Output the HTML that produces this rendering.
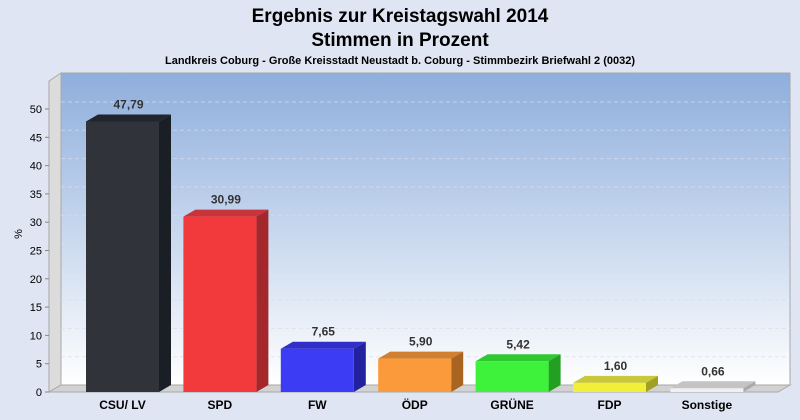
<!DOCTYPE html>
<html><head><meta charset="utf-8"><style>
body{margin:0;background:#dfe5f3;}
svg{display:block;font-family:"Liberation Sans",sans-serif;}
</style></head><body>
<svg width="800" height="420" viewBox="0 0 800 420">
<defs>
<linearGradient id="bg" x1="0" y1="0" x2="0" y2="1"><stop offset="0" stop-color="#8eaedc"/><stop offset="1" stop-color="#ffffff"/></linearGradient>
</defs>
<rect width="800" height="420" fill="#dfe5f3"/>
<text x="400" y="22" text-anchor="middle" font-size="19" font-weight="bold">Ergebnis zur Kreistagswahl 2014</text>
<text x="400" y="46" text-anchor="middle" font-size="19" font-weight="bold">Stimmen in Prozent</text>
<text x="400" y="64" text-anchor="middle" font-size="11" font-weight="bold">Landkreis Coburg - Große Kreisstadt Neustadt b. Coburg - Stimmbezirk Briefwahl 2 (0032)</text>
<rect x="61" y="73" width="729" height="312" fill="url(#bg)" stroke="#a8a8a8"/>
<polygon points="49,81 61,73 61,385 49,392" fill="#dcdcdc" stroke="#a8a8a8"/>
<polygon points="49,392 61,385 790,385 778,392" fill="#d2d2d2" stroke="#a8a8a8"/>
<g stroke="#d8dde8" stroke-dasharray="4,3" stroke-opacity="0.7">
<line x1="61" y1="356.7" x2="790" y2="356.7"/><line x1="61" y1="328.4" x2="790" y2="328.4"/><line x1="61" y1="300.1" x2="790" y2="300.1"/><line x1="61" y1="271.8" x2="790" y2="271.8"/><line x1="61" y1="243.5" x2="790" y2="243.5"/><line x1="61" y1="215.2" x2="790" y2="215.2"/><line x1="61" y1="186.9" x2="790" y2="186.9"/><line x1="61" y1="158.6" x2="790" y2="158.6"/><line x1="61" y1="130.3" x2="790" y2="130.3"/><line x1="61" y1="102" x2="790" y2="102"/>
</g>
<g font-size="11" text-anchor="end" fill="#000">
<text x="42" y="396">0</text><text x="42" y="367.7">5</text><text x="42" y="339.4">10</text><text x="42" y="311.1">15</text><text x="42" y="282.8">20</text><text x="42" y="254.5">25</text><text x="42" y="226.2">30</text><text x="42" y="197.9">35</text><text x="42" y="169.6">40</text><text x="42" y="141.3">45</text><text x="42" y="113">50</text>
</g>
<g stroke="#888">
<line x1="45" y1="392" x2="49" y2="392"/><line x1="45" y1="363.7" x2="49" y2="363.7"/><line x1="45" y1="335.4" x2="49" y2="335.4"/><line x1="45" y1="307.1" x2="49" y2="307.1"/><line x1="45" y1="278.8" x2="49" y2="278.8"/><line x1="45" y1="250.5" x2="49" y2="250.5"/><line x1="45" y1="222.2" x2="49" y2="222.2"/><line x1="45" y1="193.9" x2="49" y2="193.9"/><line x1="45" y1="165.6" x2="49" y2="165.6"/><line x1="45" y1="137.3" x2="49" y2="137.3"/><line x1="45" y1="109" x2="49" y2="109"/>
</g>
<text x="22" y="234" font-size="11" transform="rotate(-90 22 234)" text-anchor="middle">%</text>

<!-- CSU -->
<polygon points="86,121.5 98,114.5 171,114.5 159,121.5" fill="#21262e"/>
<polygon points="159,121.5 171,114.5 171,385 159,392" fill="#1a1e25"/>
<rect x="86" y="121.5" width="73" height="270.5" fill="#30343a"/>
<!-- SPD -->
<polygon points="183.4,216.6 195.4,209.6 268.4,209.6 256.4,216.6" fill="#c7343a"/>
<polygon points="256.4,216.6 268.4,209.6 268.4,385 256.4,392" fill="#a3272b"/>
<rect x="183.4" y="216.6" width="73" height="175.4" fill="#f23a3d"/>
<!-- FW -->
<polygon points="280.8,348.7 292.8,341.7 365.8,341.7 353.8,348.7" fill="#3030c8"/>
<polygon points="353.8,348.7 365.8,341.7 365.8,385 353.8,392" fill="#2222a0"/>
<rect x="280.8" y="348.7" width="73" height="43.3" fill="#3c3cf5"/>
<!-- ÖDP -->
<polygon points="378.2,358.6 390.2,351.6 463.2,351.6 451.2,358.6" fill="#d0802e"/>
<polygon points="451.2,358.6 463.2,351.6 463.2,385 451.2,392" fill="#a86420"/>
<rect x="378.2" y="358.6" width="73" height="33.4" fill="#fb9a3a"/>
<!-- GRÜNE -->
<polygon points="475.6,361.3 487.6,354.3 560.6,354.3 548.6,361.3" fill="#30c830"/>
<polygon points="548.6,361.3 560.6,354.3 560.6,385 548.6,392" fill="#22a022"/>
<rect x="475.6" y="361.3" width="73" height="30.7" fill="#3ef23c"/>
<!-- FDP -->
<polygon points="573,382.9 585,375.9 658,375.9 646,382.9" fill="#c8c83a"/>
<polygon points="646,382.9 658,375.9 658,385 646,392" fill="#a0a022"/>
<rect x="573" y="382.9" width="73" height="9.1" fill="#f0f03a"/>
<!-- Sonstige -->
<polygon points="670.4,388.3 682.4,381.3 755.4,381.3 743.4,388.3" fill="#c4c4c4"/>
<polygon points="743.4,388.3 755.4,381.3 755.4,385 743.4,392" fill="#aaaaaa"/>
<rect x="670.4" y="388.3" width="73" height="3.7" fill="#f0f0f0"/>

<g font-size="12" font-weight="bold" fill="#333" text-anchor="middle">
<text x="128.5" y="108.5">47,79</text>
<text x="225.9" y="203.6">30,99</text>
<text x="323.3" y="335.7">7,65</text>
<text x="420.7" y="345.6">5,90</text>
<text x="518.1" y="348.3">5,42</text>
<text x="615.5" y="369.9">1,60</text>
<text x="712.9" y="375.3">0,66</text>
</g>
<g font-size="12" font-weight="bold" fill="#000" text-anchor="middle">
<text x="122.5" y="409">CSU/ LV</text>
<text x="219.9" y="409">SPD</text>
<text x="317.3" y="409">FW</text>
<text x="414.7" y="409">ÖDP</text>
<text x="512.1" y="409">GRÜNE</text>
<text x="609.5" y="409">FDP</text>
<text x="706.9" y="409">Sonstige</text>
</g>
</svg>
</body></html>
